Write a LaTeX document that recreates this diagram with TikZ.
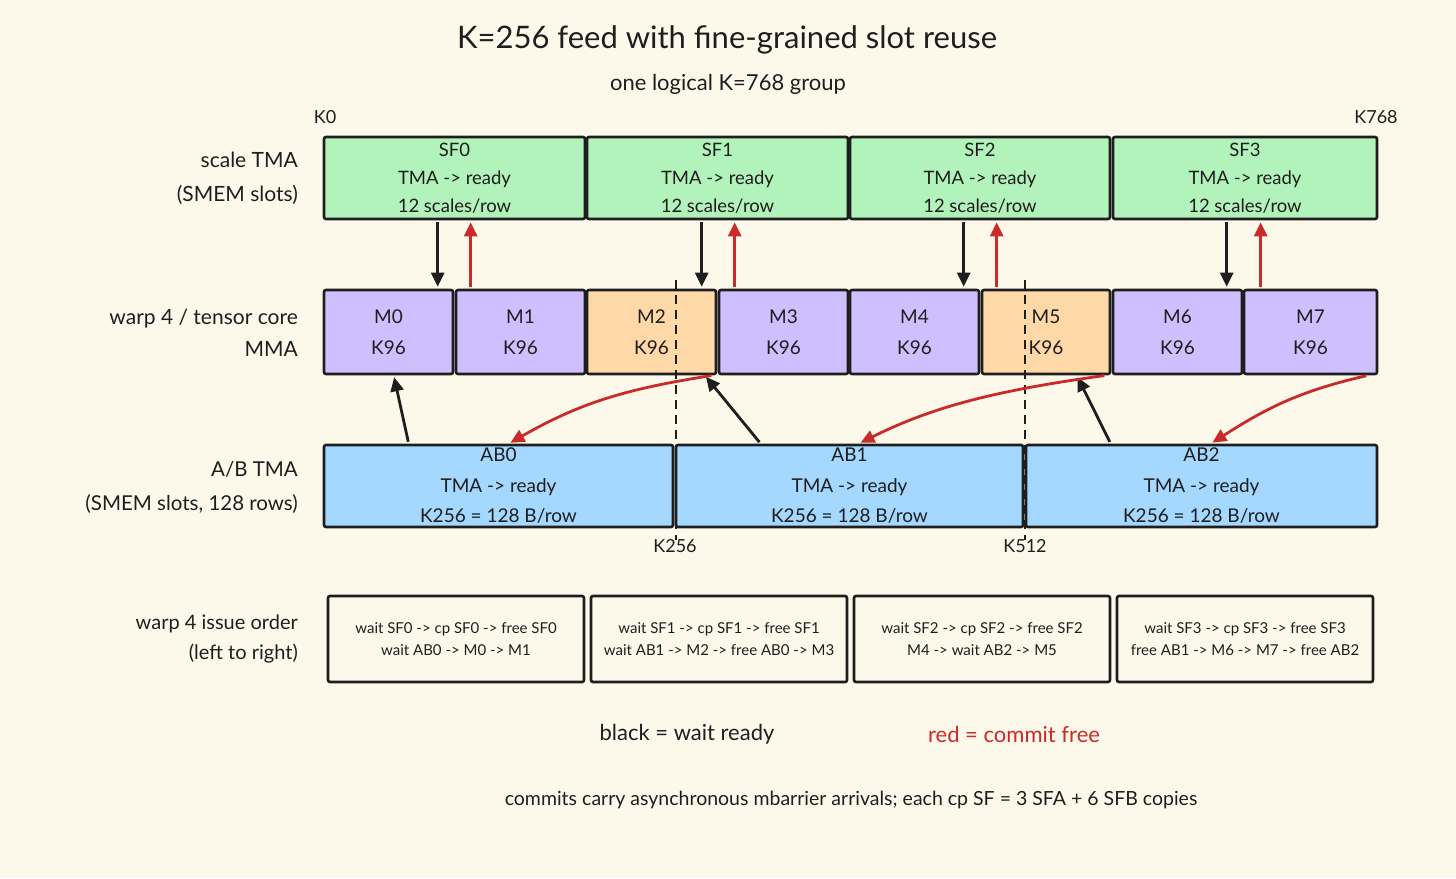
\documentclass[tikz,border=0pt]{standalone}
\usepackage{fontspec}
\setmainfont{Lato}
\usetikzlibrary{arrows.meta,calc}
\definecolor{bg}{HTML}{FDF9EA}
\definecolor{ink}{HTML}{1E1E1E}
\definecolor{sfgreen}{HTML}{B2F2BB}
\definecolor{mpurple}{HTML}{D0BFFF}
\definecolor{morange}{HTML}{FFD8A8}
\definecolor{abblue}{HTML}{A5D8FF}
\definecolor{cred}{HTML}{C92A2A}
\begin{document}
\begin{tikzpicture}[x=1pt,y=-1pt,
  box/.style={draw=ink, line width=2.6pt, rounded corners=2pt, inner sep=0pt, align=center, text=ink},
  sfbox/.style={box, fill=sfgreen, minimum height=82pt, font=\fontsize{18.5}{28}\selectfont},
  mbox/.style={box, fill=mpurple, minimum height=84pt, font=\fontsize{19}{31}\selectfont},
  mobox/.style={mbox, fill=morange},
  abbox/.style={box, fill=abblue, minimum height=82pt, font=\fontsize{19}{30.5}\selectfont},
  issuebox/.style={box, fill=bg, minimum height=86pt, minimum width=256pt, font=\fontsize{15}{22}\selectfont},
  rowlabel/.style={anchor=east, align=right, text=ink, inner sep=0pt},
  klabel/.style={text=ink, inner sep=0pt, font=\fontsize{18}{20}\selectfont},
  warr/.style={draw=ink, line width=2.8pt, -{Triangle[length=14pt,width=13pt]}, shorten <=2pt, shorten >=2pt},
  rarr/.style={draw=cred, line width=2.8pt, -{Triangle[length=14pt,width=13pt]}, shorten <=2pt, shorten >=2pt},
  dashline/.style={draw=ink, line width=2.4pt, dash pattern=on 9pt off 6pt}
]
\fill[bg] (0,0) rectangle (1456,878);
\useasboundingbox (0,0) rectangle (1456,878);

% titles
\node[text=ink, font=\fontsize{31}{34}\selectfont] (title) at (727,40) {K=256 feed with fine-grained slot reuse};
\node[text=ink, font=\fontsize{22}{24}\selectfont] (subtitle) at (728,84) {one logical K=768 group};
\node[klabel] (k0) at (325,117) {K0};
\node[klabel] (k768) at (1376,117) {K768};

% row labels
\node[rowlabel, font=\fontsize{21}{34}\selectfont] (lab1) at (298,178) {scale TMA\\(SMEM slots)};
\node[rowlabel, font=\fontsize{21}{32}\selectfont] (lab2) at (298,333) {warp 4 / tensor core\\MMA};
\node[rowlabel, font=\fontsize{20.5}{34}\selectfont] (lab3) at (298,487) {A/B TMA\\(SMEM slots, 128 rows)};
\node[rowlabel, font=\fontsize{20}{30}\selectfont] (lab4) at (298,639) {warp 4 issue order\\(left to right)};

% scale TMA row
\node[sfbox, minimum width=261pt] (sf0) at (454.5,178) {SF0\\TMA -> ready\\12 scales/row};
\node[sfbox, minimum width=261pt] (sf1) at (717.5,178) {SF1\\TMA -> ready\\12 scales/row};
\node[sfbox, minimum width=260pt] (sf2) at (980,178) {SF2\\TMA -> ready\\12 scales/row};
\node[sfbox, minimum width=264pt] (sf3) at (1245,178) {SF3\\TMA -> ready\\12 scales/row};

% MMA row
\node[mbox, minimum width=129pt] (m0) at (388.5,332) {M0\\K96};
\node[mbox, minimum width=129pt] (m1) at (520.5,332) {M1\\K96};
\node[mobox, minimum width=129pt] (m2) at (651.5,332) {M2\\K96};
\node[mbox, minimum width=129pt] (m3) at (783.5,332) {M3\\K96};
\node[mbox, minimum width=129pt] (m4) at (914.5,332) {M4\\K96};
\node[mobox, minimum width=128pt] (m5) at (1046,332) {M5\\K96};
\node[mbox, minimum width=129pt] (m6) at (1177.5,332) {M6\\K96};
\node[mbox, minimum width=133pt] (m7) at (1310.5,332) {M7\\K96};

% A/B row
\node[abbox, minimum width=349pt] (ab0) at (498.5,486) {AB0\\TMA -> ready\\K256 = 128 B/row};
\node[abbox, minimum width=347pt] (ab1) at (849.5,486) {AB1\\TMA -> ready\\K256 = 128 B/row};
\node[abbox, minimum width=351pt] (ab2) at (1201.5,486) {AB2\\TMA -> ready\\K256 = 128 B/row};

% issue order row
\node[issuebox] (i0) at (456,639) {wait SF0 -> cp SF0 -> free SF0\\wait AB0 -> M0 -> M1};
\node[issuebox] (i1) at (719,639) {wait SF1 -> cp SF1 -> free SF1\\wait AB1 -> M2 -> free AB0 -> M3};
\node[issuebox] (i2) at (982,639) {wait SF2 -> cp SF2 -> free SF2\\M4 -> wait AB2 -> M5};
\node[issuebox] (i3) at (1245,639) {wait SF3 -> cp SF3 -> free SF3\\free AB1 -> M6 -> M7 -> free AB2};

% K boundaries
\coordinate (d1t) at (676,280);
\coordinate (d1b) at (676,540);
\coordinate (d2t) at (1025,280);
\coordinate (d2b) at (1025,540);
\draw[dashline] (d1t) -- (d1b);
\draw[dashline] (d2t) -- (d2b);
\node[klabel] (k256) at (675,546) {K256};
\node[klabel] (k512) at (1025,546) {K512};

% scale slot arrows
\draw[warr] ([xshift=115pt]sf0.south west) -- ([xshift=115pt]m0.north west);
\draw[rarr] ([xshift=16pt]m1.north west) -- ([xshift=148pt]sf0.south west);
\draw[warr] ([xshift=116pt]sf1.south west) -- ([xshift=116pt]m2.north west);
\draw[rarr] ([xshift=17pt]m3.north west) -- ([xshift=149pt]sf1.south west);
\draw[warr] ([xshift=115pt]sf2.south west) -- ([xshift=115pt]m4.north west);
\draw[rarr] ([xshift=16pt]m5.north west) -- ([xshift=148pt]sf2.south west);
\draw[warr] ([xshift=115pt]sf3.south west) -- ([xshift=115pt]m6.north west);
\draw[rarr] ([xshift=18pt]m7.north west) -- ([xshift=149pt]sf3.south west);

% A/B ready arrows
\draw[warr] ([xshift=86pt]ab0.north west) -- ([xshift=71pt]m0.south west);
\draw[warr] ([xshift=86pt]ab1.north west) -- ([xshift=119pt]m2.south west);
\draw[warr] ([xshift=86pt]ab2.north west) -- ([xshift=96pt]m5.south west);

% A/B free arrows
\draw[rarr] ([xshift=-4pt]m2.south east) .. controls +(-90,14) and +(70,-40) .. ([xshift=186pt]ab0.north west);
\draw[rarr] ([xshift=-5pt]m5.south east) .. controls +(-100,14) and +(80,-40) .. ([xshift=184pt]ab1.north west);
\draw[rarr] ([xshift=-10pt]m7.south east) .. controls +(-70,16) and +(55,-35) .. ([xshift=186pt]ab2.north west);

% legend
\node[text=ink, font=\fontsize{22}{24}\selectfont] (leg1) at (687,734) {black = wait ready};
\node[text=cred, font=\fontsize{22}{24}\selectfont] (leg2) at (1014,734) {red = commit free};
\node[text=ink, font=\fontsize{19.5}{22}\selectfont] (foot) at (851,800) {commits carry asynchronous mbarrier arrivals; each cp SF = 3 SFA + 6 SFB copies};
\end{tikzpicture}
\end{document}
